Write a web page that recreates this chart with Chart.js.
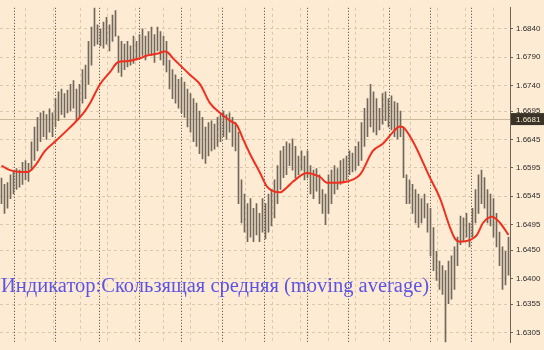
<!DOCTYPE html>
<html>
<head>
<meta charset="utf-8">
<script src="https://cdn.jsdelivr.net/npm/chart.js@4"></script>
<style>
  html, body { margin: 0; padding: 0; background: #fdebd4; }
  canvas { display: block; }
</style>
</head>
<body>
<canvas id="chart" width="544" height="350"></canvas>
<script>
'use strict';

// bar highs / lows, one per bar, left to right
const highs = [
  1.6577, 1.6566, 1.6569, 1.6583, 1.6588, 1.6594, 1.6591, 1.6605, 1.6608, 1.6603,
  1.6641, 1.6667, 1.6684, 1.6692, 1.6695, 1.6689, 1.6699, 1.6692, 1.6717, 1.6729,
  1.6734, 1.6726, 1.6732, 1.6742, 1.6749, 1.6734, 1.6742, 1.6768, 1.6776, 1.6818,
  1.6843, 1.6885, 1.6847, 1.6840, 1.6852, 1.6860, 1.6847, 1.6864, 1.6872, 1.6827,
  1.6818, 1.6813, 1.6818, 1.6810, 1.6827, 1.6818, 1.6830, 1.6840, 1.6827, 1.6835,
  1.6843, 1.6830, 1.6843, 1.6835, 1.6827, 1.6818, 1.6785, 1.6768, 1.6759, 1.6751,
  1.6754, 1.6746, 1.6734, 1.6726, 1.6717, 1.6709, 1.6695, 1.6684, 1.6667, 1.6675,
  1.6678, 1.6672, 1.6684, 1.6689, 1.6695, 1.6689, 1.6692, 1.6684, 1.6675, 1.6658,
  1.6574, 1.6549, 1.6532, 1.6541, 1.6524, 1.6532, 1.6515, 1.6541, 1.6532, 1.6549,
  1.6557, 1.6574, 1.6599, 1.6625, 1.6633, 1.6641, 1.6638, 1.6646, 1.6633, 1.6616,
  1.6625, 1.6616, 1.6625, 1.6599, 1.6591, 1.6594, 1.6583, 1.6557, 1.6549, 1.6583,
  1.6591, 1.6599, 1.6594, 1.6608, 1.6611, 1.6616, 1.6625, 1.6621, 1.6633, 1.6641,
  1.6675, 1.6700, 1.6717, 1.6742, 1.6729, 1.6717, 1.6700, 1.6726, 1.6729, 1.6717,
  1.6722, 1.6712, 1.6709, 1.6695, 1.6667, 1.6583, 1.6574, 1.6566, 1.6557, 1.6549,
  1.6541, 1.6549, 1.6532, 1.6524, 1.6490, 1.6448, 1.6431, 1.6423, 1.6414, 1.6431,
  1.6440, 1.6456, 1.6473, 1.6510, 1.6507, 1.6515, 1.6498, 1.6524, 1.6557, 1.6583,
  1.6591, 1.6578, 1.6557, 1.6549, 1.6541, 1.6515, 1.6482, 1.6456, 1.6448, 1.6473
];
const lows = [
  1.6532, 1.6515, 1.6524, 1.6541, 1.6549, 1.6557, 1.6561, 1.6566, 1.6574, 1.6571,
  1.6591, 1.6608, 1.6625, 1.6641, 1.6650, 1.6645, 1.6658, 1.6650, 1.6667, 1.6678,
  1.6689, 1.6684, 1.6692, 1.6695, 1.6700, 1.6678, 1.6684, 1.6709, 1.6717, 1.6742,
  1.6776, 1.6810, 1.6813, 1.6810, 1.6806, 1.6813, 1.6801, 1.6818, 1.6827, 1.6763,
  1.6756, 1.6768, 1.6773, 1.6776, 1.6779, 1.6785, 1.6790, 1.6793, 1.6785, 1.6796,
  1.6793, 1.6781, 1.6801, 1.6785, 1.6776, 1.6764, 1.6734, 1.6717, 1.6709, 1.6700,
  1.6692, 1.6684, 1.6667, 1.6658, 1.6641, 1.6633, 1.6620, 1.6611, 1.6603, 1.6616,
  1.6625, 1.6628, 1.6633, 1.6641, 1.6650, 1.6645, 1.6658, 1.6633, 1.6625, 1.6532,
  1.6498, 1.6482, 1.6465, 1.6473, 1.6465, 1.6477, 1.6465, 1.6482, 1.6470, 1.6482,
  1.6493, 1.6507, 1.6532, 1.6557, 1.6578, 1.6583, 1.6599, 1.6591, 1.6578, 1.6583,
  1.6591, 1.6574, 1.6578, 1.6549, 1.6541, 1.6554, 1.6532, 1.6515, 1.6495, 1.6515,
  1.6532, 1.6549, 1.6557, 1.6566, 1.6569, 1.6574, 1.6583, 1.6588, 1.6591, 1.6599,
  1.6608, 1.6633, 1.6650, 1.6667, 1.6658, 1.6653, 1.6662, 1.6672, 1.6678, 1.6667,
  1.6662, 1.6650, 1.6646, 1.6650, 1.6578, 1.6532, 1.6532, 1.6515, 1.6498, 1.6490,
  1.6498, 1.6507, 1.6482, 1.6440, 1.6414, 1.6397, 1.6381, 1.6372, 1.6280, 1.6356,
  1.6364, 1.6381, 1.6423, 1.6460, 1.6465, 1.6473, 1.6456, 1.6473, 1.6498, 1.6515,
  1.6532, 1.6524, 1.6498, 1.6493, 1.6473, 1.6456, 1.6423, 1.6381, 1.6389, 1.6406
];

// moving average, read at these bar positions
const maBar = [
  0, 2.8, 6.2, 8.8, 11.2, 14.5, 17.8, 21.2, 24.5, 27.8, 29.5, 32.8, 36.2, 38.8, 41.8,
  46.2, 48.5, 51.8, 54.5, 55.5, 57.2, 59.5, 62.8, 66.2, 69.5, 72.8, 76.2, 78.5, 80.5,
  82.8, 86.2, 88.5, 92.8, 95.2, 97.2, 101.8, 103.8, 106.2, 108.5, 111.8, 115.2, 119.5,
  123.8, 127.2, 130.5, 132.8, 133.8, 137.2, 142.8, 146.2, 149.5, 151.2, 152.8, 156.2,
  158.5, 160.5, 163.5, 166.2, 169
];
const maPrice = [
  1.6599, 1.6591, 1.6588, 1.6588, 1.6599, 1.6625, 1.6641, 1.6658, 1.6675, 1.6695, 1.6709, 1.6742, 1.6764, 1.6781, 1.6783,
  1.6788, 1.6793, 1.6796, 1.6800, 1.6798, 1.6788, 1.6776, 1.6759, 1.6742, 1.6709, 1.6692, 1.6678, 1.6670, 1.6646,
  1.6620, 1.6586, 1.6562, 1.6552, 1.6561, 1.6571, 1.6586, 1.6584, 1.6579, 1.6569, 1.6569, 1.6571, 1.6583,
  1.6625, 1.6638, 1.6658, 1.6668, 1.6667, 1.6641, 1.6578, 1.6541, 1.6490, 1.6470, 1.6465, 1.6468,
  1.6477, 1.6498, 1.6509, 1.6498, 1.6477
];

const priceTicks = [1.6840, 1.6790, 1.6740, 1.6695, 1.6645, 1.6595, 1.6545, 1.6495, 1.6450, 1.6400, 1.6355, 1.6305];
const lastPrice = 1.6681;
const daySeparators = [4.2, 17.8, 32.5, 45.8, 59.8, 73.5, 87.5, 101.8, 115.5, 129.2, 142.8, 156.5];
const timeGrid = [7.8, 17, 26.2, 35.3, 44.5, 53.7, 62.8, 72, 81.2, 90.3, 99.5, 108.7, 117.8, 127, 136.2, 145.3, 154.5, 163.7];
const caption = 'Индикатор:Скользящая средняя (moving average)';

const terminalLook = {
  id: 'terminalLook',
  beforeDraw(chart) {
    const ctx = chart.ctx;
    ctx.save();
    ctx.fillStyle = '#fdebd4';
    ctx.fillRect(0, 0, chart.width, chart.height);
    ctx.restore();
  },
  beforeDatasetsDraw(chart) {
    const { ctx, chartArea: a, scales: { x, y } } = chart;
    const vline = (v) => {
      const px = Math.round(x.getPixelForValue(v)) + 0.5;
      ctx.beginPath();
      ctx.moveTo(px, a.top);
      ctx.lineTo(px, a.bottom);
      ctx.stroke();
    };
    ctx.save();
    ctx.lineWidth = 1;
    ctx.strokeStyle = '#dcc8ab';
    ctx.setLineDash([3, 3]);
    timeGrid.forEach(vline);
    ctx.strokeStyle = '#4a4338';
    ctx.setLineDash([1, 2]);
    daySeparators.forEach(vline);
    ctx.setLineDash([]);
    ctx.strokeStyle = '#cdb89a';
    const py = Math.round(y.getPixelForValue(lastPrice)) + 0.5;
    ctx.beginPath();
    ctx.moveTo(a.left, py);
    ctx.lineTo(a.right, py);
    ctx.stroke();
    ctx.restore();
  },
  afterDraw(chart) {
    const { ctx, chartArea: a, scales: { y } } = chart;
    ctx.save();
    // current price marker
    const py = y.getPixelForValue(lastPrice);
    ctx.fillStyle = '#3b3327';
    ctx.fillRect(a.right + 1, py - 6, chart.width - a.right - 1, 12);
    ctx.fillStyle = '#f6e9cf';
    ctx.font = '8px "Liberation Sans"';
    ctx.textBaseline = 'middle';
    ctx.fillText(lastPrice.toFixed(4), a.right + 6, py + 0.5);
    // indicator caption
    ctx.font = '21px "Liberation Serif"';
    const w = ctx.measureText(caption).width;
    ctx.font = (21 * 428 / w).toFixed(1) + 'px "Liberation Serif"';
    ctx.fillStyle = '#5e54e2';
    ctx.textBaseline = 'alphabetic';
    ctx.fillText(caption, 1, 292);
    ctx.restore();
  }
};

new Chart(document.getElementById('chart'), {
  type: 'bar',
  data: {
    datasets: [{
      type: 'line',
      data: maBar.map((b, i) => ({ x: b, y: maPrice[i] })),
      borderColor: '#f0301f',
      borderWidth: 2,
      pointRadius: 0,
      cubicInterpolationMode: 'monotone',
      order: 1
    }, {
      type: 'bar',
      data: highs.map((h, i) => ({ x: i, y: [lows[i], h] })),
      backgroundColor: '#71675a',
      barThickness: 1,
      grouped: false,
      order: 2
    }]
  },
  options: {
    responsive: false,
    animation: false,
    layout: { padding: 0 },
    plugins: { legend: { display: false }, tooltip: { enabled: false } },
    scales: {
      x: { type: 'linear', min: -0.5, max: 169.5, offset: false, display: false },
      y: {
        type: 'linear',
        position: 'right',
        min: 1.6288,
        max: 1.6877,
        beginAtZero: false,
        afterFit(s) { s.width = 34; },
        afterBuildTicks(s) { s.ticks = priceTicks.map(v => ({ value: v })); },
        grid: { color: '#dcc8ab', tickColor: '#6e6252', tickLength: 3 },
        border: { display: true, color: '#6e6252', width: 1, dash: [3, 3] },
        ticks: {
          color: '#2b2b2b',
          padding: 3,
          font: { family: 'Liberation Sans', size: 8 },
          callback: v => v.toFixed(4)
        }
      }
    }
  },
  plugins: [terminalLook]
});
</script>
</body>
</html>
